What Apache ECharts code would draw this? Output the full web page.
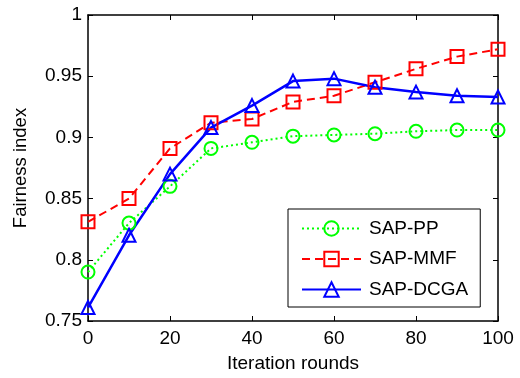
<!DOCTYPE html>
<html>
<head>
<meta charset="utf-8">
<script src="https://cdn.jsdelivr.net/npm/echarts@6/dist/echarts.min.js"></script>
<style>
  html, body { margin: 0; padding: 0; background: #fff; }
  #main { width: 520px; height: 378px; }
</style>
</head>
<body>
<div id="main"></div>
<script>
const rounds = [0, 10, 20, 30, 40, 50, 60, 70, 80, 90, 100];
const sapPP = [0.79, 0.83, 0.86, 0.891, 0.896, 0.901, 0.902, 0.903, 0.905, 0.906, 0.906];
const sapMMF = [0.831, 0.85, 0.891, 0.912, 0.915, 0.929, 0.934, 0.945, 0.956, 0.966, 0.972];
const sapDCGA = [0.761, 0.82, 0.87, 0.908, 0.926, 0.946, 0.948, 0.941, 0.937, 0.934, 0.933];

const FONT = "Liberation Sans, Arial, sans-serif";
const chart = echarts.init(document.getElementById("main"));

const pairs = (ys) => rounds.map((x, i) => [x, ys[i]]);

const frameLine = { show: true, onZero: false, lineStyle: { color: "#000", width: 1.5 } };
const tick = { show: true, inside: true, length: 5, lineStyle: { color: "#000", width: 1 } };

const mkSeries = (name, ys, color, symbol, lineType, width) => ({
  name: name,
  type: "line",
  data: pairs(ys),
  symbol: symbol,
  symbolSize: 13,
  showAllSymbol: true,
  lineStyle: { color: color, width: width, type: lineType },
  itemStyle: { color: "rgba(0,0,0,0)", borderColor: color, borderWidth: 2 },
  emphasis: { disabled: true },
  animation: false,
  z: 3
});

const option = {
  animation: false,
  grid: { left: 88, right: 22, top: 15, bottom: 53 },
  legend: {
    left: 288,
    top: 209,
    orient: "vertical",
    backgroundColor: "#fff",
    borderColor: "#000",
    borderWidth: 1,
    borderRadius: 0,
    padding: [10, 12, 8, 13],
    itemWidth: 59,
    itemHeight: 18,
    itemGap: 11.5,
    textStyle: { fontFamily: FONT, fontSize: 19, color: "#000", padding: [0, 0, 0, 3] },
    data: ["SAP-PP", "SAP-MMF", "SAP-DCGA"]
  },
  xAxis: [
    {
      type: "value",
      min: 0, max: 100, interval: 20,
      name: "Iteration rounds",
      nameLocation: "middle",
      nameGap: 33,
      nameTextStyle: { fontFamily: FONT, fontSize: 19, color: "#000" },
      axisLine: frameLine,
      axisTick: tick,
      axisLabel: { fontFamily: FONT, fontSize: 19, color: "#000", margin: 8 },
      splitLine: { show: false }
    },
    {
      type: "value",
      position: "top",
      min: 0, max: 100, interval: 20,
      axisLine: frameLine,
      axisTick: tick,
      axisLabel: { show: false },
      splitLine: { show: false }
    }
  ],
  yAxis: [
    {
      type: "value",
      min: 0.75, max: 1, interval: 0.05,
      name: "Fairness index",
      nameLocation: "middle",
      nameGap: 58,
      nameTextStyle: { fontFamily: FONT, fontSize: 18.5, color: "#000" },
      axisLine: frameLine,
      axisTick: tick,
      axisLabel: {
        fontFamily: FONT, fontSize: 19, color: "#000", margin: 6,
        formatter: (v) => String(+v.toFixed(2))
      },
      splitLine: { show: false }
    },
    {
      type: "value",
      position: "right",
      min: 0.75, max: 1, interval: 0.05,
      axisLine: frameLine,
      axisTick: tick,
      axisLabel: { show: false },
      splitLine: { show: false }
    }
  ],
  series: [
    mkSeries("SAP-PP", sapPP, "#00ff00", "circle", [2, 3], 2),
    mkSeries("SAP-MMF", sapMMF, "#ff0000", "rect", [8, 5], 2),
    mkSeries("SAP-DCGA", sapDCGA, "#0000ff", "triangle", "solid", 2.5)
  ]
};

option && chart.setOption(option);
</script>
</body>
</html>
